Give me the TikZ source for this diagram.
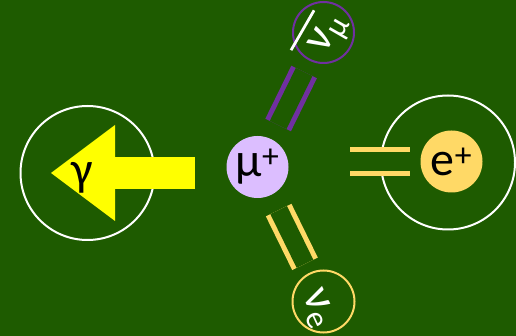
\documentclass[tikz,border=0pt]{standalone}
\usepackage{fontspec}
\setmainfont{Carlito}
\usetikzlibrary{calc,arrows.meta}
\definecolor{bggreen}{HTML}{1E5B00}
\definecolor{muonlilac}{HTML}{DCBEFF}
\definecolor{positrongold}{HTML}{FFD966}
\definecolor{numupurple}{HTML}{7030A0}
\definecolor{photonyellow}{HTML}{FFFF00}
\newcommand{\antinu}{\makebox[0pt][l]{\hspace{-0.3em}\rule[0.66em]{1.0em}{0.06em}}ν}

\begin{document}
\begin{tikzpicture}[x=1pt, y=-1pt,
  ring/.style={circle, draw=white, line width=2pt, minimum size=134pt, inner sep=0pt, outer sep=0pt},
  ball/.style={circle, inner sep=0pt, outer sep=0pt, minimum size=62pt, font=\fontsize{48}{48}\selectfont},
  nulabel/.style={text=white, inner sep=0pt, font=\fontsize{46}{46}\selectfont},
  pair/.style={line width=5pt, double=bggreen, double distance=18.5pt},
  bigarrow/.style={photonyellow, line width=32pt, -{Triangle[length=64pt, width=96pt, line width=0pt]}}
]
  \fill[bggreen] (0,0) rectangle (516,336);

  % particles
  \node[ring] (photon) at (87.5,173) {};
  \node[ring] (positronring) at (448,162.5) {};
  \node[ball, fill=muonlilac] (muon) at (257.5,167) {μ\textsuperscript{+}};
  \node[ball, fill=positrongold] (positron) at (451.5,161.5) {e\textsuperscript{+}};
  \node[ring, draw=numupurple, minimum size=61pt] (numu) at (323.5,32.5) {};
  \node[ring, draw=positrongold, minimum size=62pt] (nue) at (323.5,301.5) {};
  \node[nulabel, rotate=60] (numutext) at (326,32) {\antinu\textsubscript{μ}};
  \node[nulabel, rotate=-65] (nuetext) at (317,309) {ν\textsubscript{e}};

  \draw[pair, numupurple, shorten <=46.8pt, shorten >=44pt] (muon.center) -- (numu.center);
  \draw[pair, positrongold, shorten <=48pt, shorten >=42pt] (muon.center) -- (nue.center);
  \draw[pair, positrongold, shorten <=92.5pt, shorten >=41.5pt] (positron.center -| muon.center) -- (positron.center);
  \draw[bigarrow, shorten <=62.5pt, shorten >=-36.5pt] (photon.center -| muon.center) -- (photon.center);

  \node[font=\fontsize{48}{48}\selectfont] (gamma) at (82,178) {γ};
\end{tikzpicture}
\end{document}
